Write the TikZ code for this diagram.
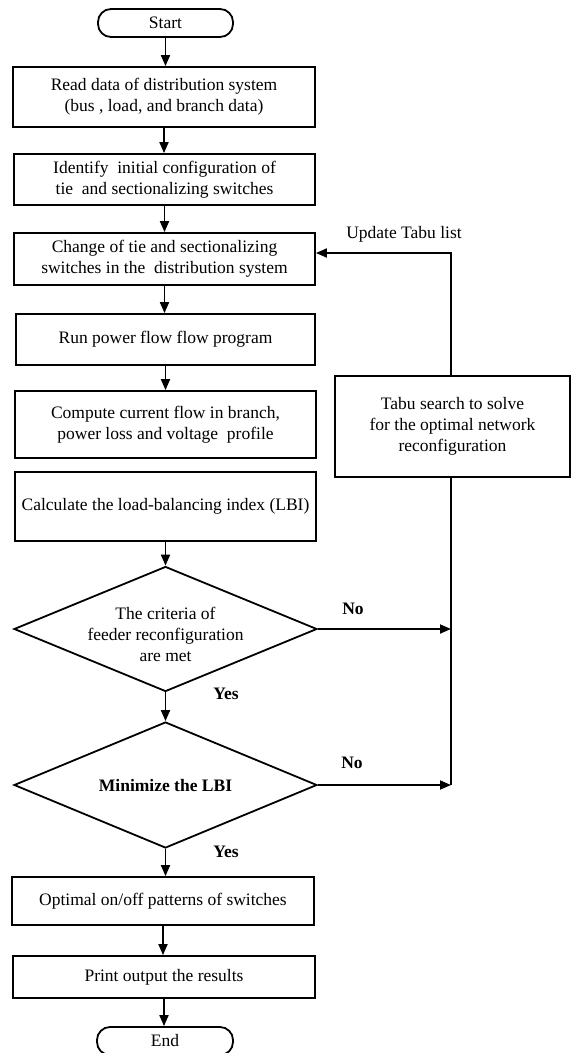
\documentclass[tikz,border=0pt]{standalone}
\usepackage{fontspec}
\setmainfont{Liberation Serif}
\usetikzlibrary{arrows.meta,shapes.geometric}
\begin{document}
\begin{tikzpicture}[x=1pt,y=-1pt,
  every node/.style={font=\fontsize{17.5}{21}\selectfont, inner sep=0pt, align=center},
  box/.style={draw, line width=1.8pt, rectangle},
  term/.style={draw, line width=1.8pt, rectangle, rounded corners=13pt},
  dec/.style={draw, line width=1.8pt, diamond},
  lbl/.style={font=\fontsize{17.5}{21}\selectfont\bfseries},
  arr/.style={line width=1.8pt, -{Triangle[length=11pt,width=9pt]}},
  ln/.style={line width=1.8pt}]
\useasboundingbox (0,0) rectangle (571,1053);

\node[term, minimum width=135pt, minimum height=28pt] (start) at (165.5,23) {Start};
\node[box, minimum width=302pt, minimum height=60pt] (b1) at (164,97)
  {Read data of distribution system\\ (bus , load, and branch data)};
\node[box, minimum width=301pt, minimum height=51pt] (b2) at (164.5,179.5)
  {Identify\ \ initial configuration of\\ tie\ \ and sectionalizing switches};
\node[box, minimum width=301pt, minimum height=52pt] (b3) at (164.5,259)
  {Change of tie and sectionalizing\\ switches in the\ \ distribution system};
\node[box, minimum width=299pt, minimum height=51pt] (b4) at (165.5,339.5)
  {Run power flow flow program};
\node[box, minimum width=301pt, minimum height=67pt] (b5) at (165.5,424.5)
  {Compute current flow in branch,\\ power loss and voltage\ \ profile};
\node[box, minimum width=301pt, minimum height=69pt] (b6) at (165.5,506.5)
  {Calculate the load-balancing index (LBI)};
\node[dec, minimum width=303pt, minimum height=125pt] (d1) at (165.5,629) {};
\node (d1t) at (165.5,634)
  {The criteria of\\ feeder reconfiguration\\ are met};
\node[dec, minimum width=303pt, minimum height=126pt] (d2) at (165.5,785) {};
\node (d2t) at (165.5,786) {\bfseries Minimize the LBI};
\node[box, minimum width=302pt, minimum height=48pt] (b7) at (163,901)
  {Optimal on/off patterns of switches};
\node[box, minimum width=302pt, minimum height=42pt] (b8) at (164,977)
  {Print output the results};
\node[term, minimum width=136pt, minimum height=28pt] (end) at (165,1041) {End};

\node[box, minimum width=235pt, minimum height=101pt] (tabu) at (452.5,426.5)
  {Tabu search to solve\\ for the optimal network\\ reconfiguration};

\node (upd) at (404,234) {Update Tabu list};
\node[lbl] (no1) at (353,609) {No};
\node[lbl] (no2) at (352,763) {No};
\node[lbl] (yes1) at (226,694) {Yes};
\node[lbl] (yes2) at (226,852) {Yes};

\draw[arr] (start.south) -- (start.south |- b1.north);
\draw[arr] (b1.south) -- (b1.south |- b2.north);
\draw[arr] (b2.south) -- (b2.south |- b3.north);
\draw[arr] (b3.south) -- (b3.south |- b4.north);
\draw[arr] (b4.south) -- (b4.south |- b5.north);
\draw[arr] (b6.south) -- (b6.south |- d1.north);
\draw[arr] (d1.south) -- (d1.south |- d2.north);
\draw[arr] (d2.south) -- (d2.south |- b7.north);
\draw[arr] (b7.south) -- (b7.south |- b8.north);
\draw[arr] (b8.south) -- (b8.south |- end.north);

\coordinate (bus) at (451,785);
\draw[arr] (d1.east) -- (d1.east -| bus);
\draw[arr] (d2.east) -- (bus);
\draw[ln] (tabu.south -| bus) -- (bus);
\draw[arr] (tabu.north -| bus) |- ([yshift=6pt]b3.east);
\end{tikzpicture}
\end{document}
